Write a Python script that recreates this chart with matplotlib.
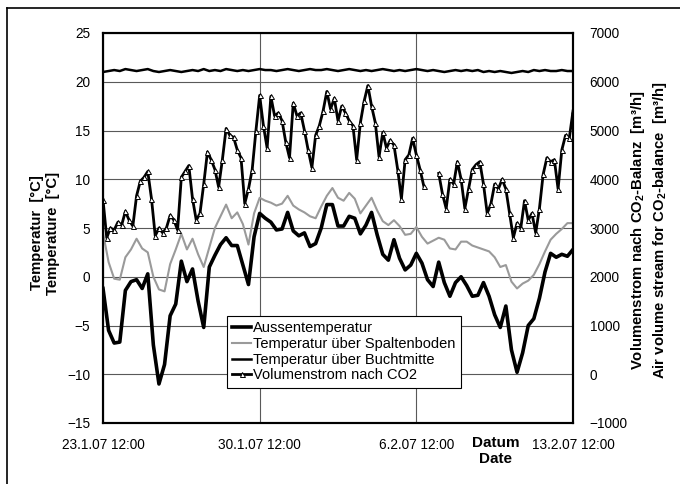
import numpy as np
import pandas as pd
import matplotlib
matplotlib.use('Agg')
import matplotlib.pyplot as plt
from matplotlib.lines import Line2D

plt.rcParams['font.family'] = ['Liberation Sans', 'DejaVu Sans']
plt.rcParams['mathtext.fontset'] = 'custom'
plt.rcParams['mathtext.rm'] = 'Liberation Sans'
plt.rcParams['mathtext.bf'] = 'Liberation Sans:bold'

# temperatures every 6 h starting 23.1.07 12:00
aussen = [
    -1.2, -5.5, -6.8, -6.7, -1.4, -0.5, -0.3, -1.2, 0.3, -7.0,
    -11.0, -9.0, -4.0, -2.8, 1.6, -0.5, 0.8, -2.5, -5.2, 1.0,
    2.2, 3.3, 4.0, 3.2, 3.2, 1.2, -0.8, 4.1, 6.5, 6.0,
    5.6, 4.8, 4.9, 6.6, 4.7, 4.2, 4.5, 3.1, 3.4, 5.0,
    7.4, 7.4, 5.2, 5.2, 6.2, 6.0, 4.4, 5.3, 6.6, 4.3,
    2.3, 1.7, 3.8, 1.9, 0.7, 1.2, 2.4, 1.4, -0.3, -1.0,
    1.5, -0.6, -2.0, -0.6, 0.0, -0.9, -2.0, -1.9, -0.6, -2.0,
    -3.9, -5.2, -3.0, -7.5, -9.8, -7.8, -5.0, -4.3, -2.2, 0.5,
    2.4, 2.0, 2.3, 2.1, 2.8,
]
spaltenboden = [
    4.5, 1.5, -0.2, -0.3, 2.0, 2.8, 3.9, 2.9, 2.5, 0.0,
    -1.3, -1.5, 1.3, 2.8, 4.4, 2.8, 3.9, 2.3, 1.0, 3.0,
    5.0, 6.2, 7.4, 6.0, 6.6, 5.4, 3.3, 6.5, 8.1, 7.8,
    7.6, 7.3, 7.5, 8.3, 7.3, 6.9, 6.6, 6.2, 6.0, 7.2,
    8.3, 9.1, 8.1, 7.8, 8.6, 8.0, 6.5, 7.3, 8.1, 6.8,
    5.7, 5.3, 5.8, 5.2, 4.3, 4.4, 5.1, 4.1, 3.4, 3.7,
    4.0, 3.8, 2.9, 2.8, 3.6, 3.6, 3.2, 3.0, 2.8, 2.6,
    2.0, 1.0, 1.2, -0.5, -1.2, -0.7, -0.4, 0.2, 1.3, 2.6,
    3.8, 4.4, 4.9, 5.5, 5.5,
]
buchtmitte = [
    21.0, 21.1, 21.2, 21.1, 21.3, 21.2, 21.1, 21.2, 21.3, 21.1,
    21.0, 21.1, 21.2, 21.1, 21.0, 21.1, 21.2, 21.1, 21.3, 21.1,
    21.2, 21.1, 21.3, 21.2, 21.1, 21.2, 21.1, 21.2, 21.3, 21.2,
    21.2, 21.1, 21.2, 21.3, 21.2, 21.1, 21.2, 21.3, 21.2, 21.2,
    21.3, 21.2, 21.1, 21.2, 21.3, 21.2, 21.1, 21.2, 21.1, 21.2,
    21.3, 21.2, 21.1, 21.2, 21.1, 21.2, 21.3, 21.2, 21.1, 21.2,
    21.1, 21.0, 21.1, 21.2, 21.1, 21.2, 21.1, 21.2, 21.0, 21.1,
    21.0, 21.1, 21.0, 20.9, 21.0, 21.1, 21.0, 21.2, 21.1, 21.2,
    21.1, 21.1, 21.2, 21.1, 21.1,
]
# air volume stream every 4 h, m3/h
volumenstrom = [
    3580, 2800, 3000, 2960, 3120, 3060, 3340, 3160, 3040, 3660,
    3960, 4040, 4160, 3600, 2840, 3000, 2900, 3000, 3260, 3160,
    2960, 4040, 4160, 4280, 3600, 3160, 3300, 3900, 4560, 4400,
    4200, 3840, 4400, 5040, 4900, 4860, 4600, 4440, 3500, 3800,
    4200, 5000, 5720, 5100, 4640, 5700, 5300, 5360, 5200, 4760,
    4440, 5560, 5300, 5360, 5000, 4600, 4240, 4900, 5100, 5400,
    5800, 5440, 5660, 5200, 5500, 5360, 5200, 5100, 4400, 5160,
    5600, 5920, 5500, 5160, 4460, 4960, 4640, 4800, 4700, 4200,
    3600, 4400, 4500, 4840, 4500, 4200, 3860, np.nan, np.nan, np.nan,
    4120, 3700, 3400, 4000, 3900, 4360, 4000, 3400, 3800, 4200,
    4300, 4360, 3900, 3300, 3500, 3900, 3800, 4000, 3800, 3300,
    2800, 3100, 3000, 3560, 3160, 3300, 2900, 3400, 4100, 4440,
    4360, 4400, 3800, 4600, 4900, 4840, 5400,
]

start = pd.Timestamp('2007-01-23 12:00')
t_temp = pd.date_range(start, periods=len(aussen), freq='6h')
t_vol = pd.date_range(start, periods=len(volumenstrom), freq='4h')

tick_dates = pd.date_range(start, periods=4, freq='7D')
tick_labels = ['23.1.07 12:00', '30.1.07 12:00', '6.2.07 12:00', '13.2.07 12:00']

fig = plt.figure(figsize=(6.8, 4.84), dpi=100)
ax = fig.add_axes([103 / 680, 1 - 423 / 484, 470 / 680, 390 / 484])
ax2 = ax.twinx()

l1, = ax.plot(t_temp, aussen, color='black', lw=2.6, label='Aussentemperatur')
l2, = ax.plot(t_temp, spaltenboden, color='#9a9a9a', lw=1.5,
              label='Temperatur über Spaltenboden')
l3, = ax.plot(t_temp, buchtmitte, color='black', lw=1.8,
              label='Temperatur über Buchtmitte')
l4, = ax2.plot(t_vol, volumenstrom, color='black', lw=2.0, marker='^', ms=3.6,
               mfc='white', mec='black', mew=0.7, label='Volumenstrom nach CO2')

ax.set_ylim(-15, 25)
ax.set_yticks(np.arange(-15, 26, 5))
ax2.set_ylim(-1000, 7000)
ax2.set_yticks(np.arange(-1000, 7001, 1000))
ax.set_xlim(tick_dates[0], tick_dates[-1])
ax.set_xticks(tick_dates)
ax.set_xticklabels(tick_labels)

ax.grid(True, color='0.35', lw=0.8)
ax.set_axisbelow(True)
for a in (ax, ax2):
    a.tick_params(length=0, labelsize=9.8)
    for s in a.spines.values():
        s.set_linewidth(1.5)
ax.tick_params(axis='y', pad=9)
ax.tick_params(axis='x', pad=11)
ax2.tick_params(axis='y', pad=12)

ax.set_xlabel('Datum\nDate', fontsize=11, fontweight='bold', linespacing=1.15)
ax.xaxis.set_label_coords(0.836, -0.034)

fig.text(45 / 680, 1 - 233 / 484, 'Temperatur  [°C]\nTemperature  [°C]',
         rotation=90, ha='center', va='center', fontsize=10.7,
         fontweight='bold', linespacing=1.1)
fig.text(649 / 680, 1 - 230 / 484,
         'Volumenstrom nach CO$_\\mathbf{2}$-Balanz  [m³/h]\n'
         'Air volume stream for CO$_\\mathbf{2}$-balance  [m³/h]',
         rotation=90, ha='center', va='center', fontsize=10.7,
         fontweight='bold', linespacing=1.25)

leg = ax2.legend(handles=[l1, l2, l3, l4], loc='upper left',
                 bbox_to_anchor=(0.264, 0.274), borderaxespad=0,
                 fontsize=10.5, labelspacing=0.12, handlelength=1.3,
                 handletextpad=0.15, borderpad=0.35, fancybox=False,
                 framealpha=1, edgecolor='black')
leg.get_frame().set_linewidth(0.8)

# outer frame of the figure
fig.add_artist(Line2D([6.5 / 680, 6.5 / 680], [0, 1 - 8 / 484],
                      color='black', lw=1.2, transform=fig.transFigure))
fig.add_artist(Line2D([6.5 / 680, 1], [1 - 8 / 484, 1 - 8 / 484],
                      color='black', lw=1.2, transform=fig.transFigure))

fig.savefig('out.png', dpi=100)
